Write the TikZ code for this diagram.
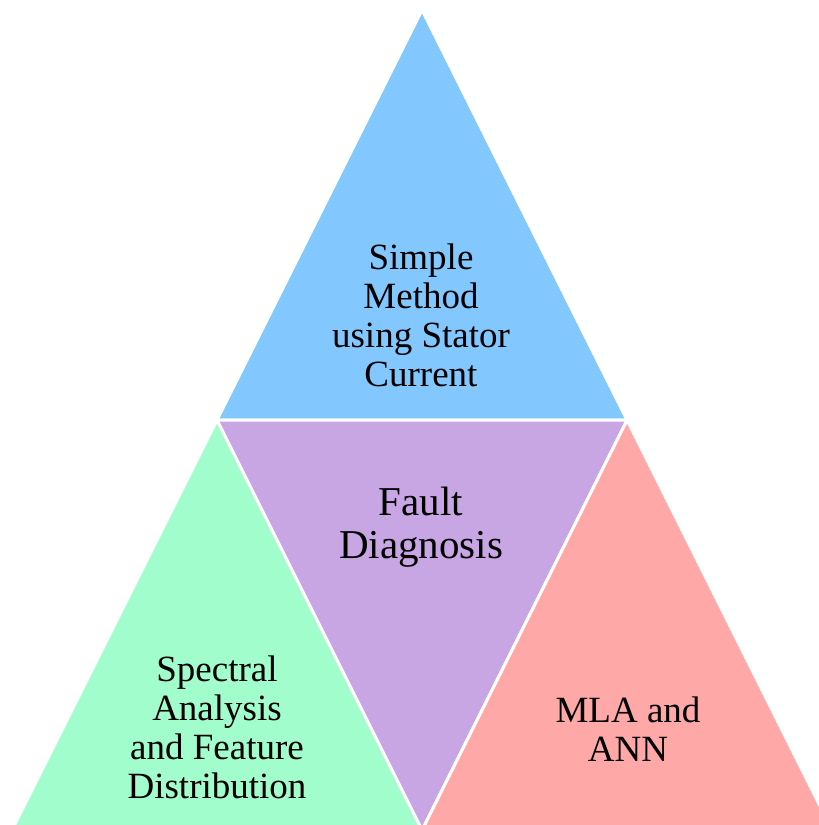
\documentclass[tikz,border=0pt]{standalone}
\usepackage{fontspec}
\setmainfont{Liberation Serif}
\usepackage{tikz}

\definecolor{topblue}{RGB}{130,200,255}
\definecolor{midpurple}{RGB}{200,166,228}
\definecolor{leftgreen}{RGB}{162,253,204}
\definecolor{rightred}{RGB}{255,168,168}

\begin{document}
\begin{tikzpicture}[x=1pt, y=-1pt]

\tikzstyle{piece} = [draw=white, line width=3pt, line join=miter]
\tikzstyle{tritext} = [align=center, text=black, font=\fontsize{37}{39}\selectfont]

\useasboundingbox (0,0) rectangle (819,825);
\clip (0,0) rectangle (819,825);

\coordinate (apex) at (422,10);
\coordinate (bl) at (12,830);
\coordinate (br) at (832,830);
\coordinate (ml) at (217,420);
\coordinate (mr) at (627,420);
\coordinate (mb) at (422,830);

\filldraw [piece, fill=topblue] (apex) -- (ml) -- (mr) -- cycle;
\filldraw [piece, fill=leftgreen] (ml) -- (bl) -- (mb) -- cycle;
\filldraw [piece, fill=rightred] (mr) -- (mb) -- (br) -- cycle;
\filldraw [piece, fill=midpurple] (ml) -- (mr) -- (mb) -- cycle;

\node (simple) [tritext] at (421,315) {Simple\\Method\\using Stator\\Current};
\node (fault) [tritext, font=\fontsize{41}{43}\selectfont] at (421,527) {Fault\\Diagnosis};
\node (spectral) [tritext] at (217,727) {Spectral\\Analysis\\and Feature\\Distribution};
\node (mla) [tritext] at (628,729) {MLA and\\ANN};
\end{tikzpicture}
\end{document}
